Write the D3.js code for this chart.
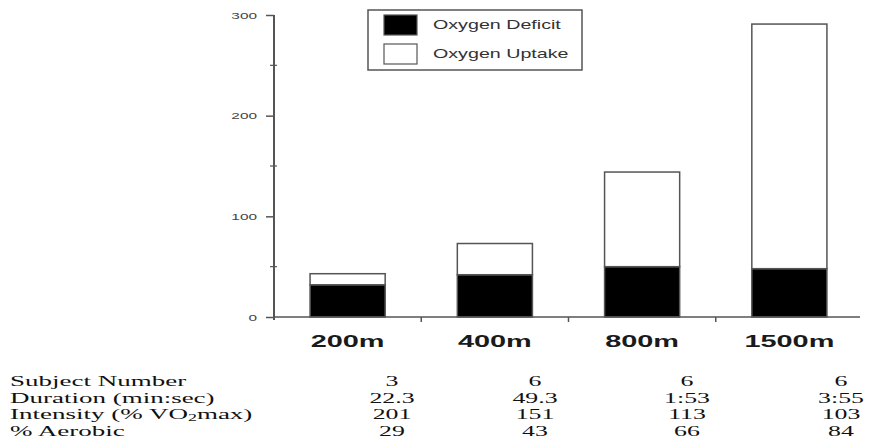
<!DOCTYPE html>
<html>
<head>
<meta charset="utf-8">
<script src="https://cdn.jsdelivr.net/npm/d3@7"></script>
<style>
  body { margin: 0; background: #fff; }
  svg { display: block; }
</style>
</head>
<body>
<div id="app"></div>
<script>
var events = ['200m', '400m', '800m', '1500m'];
var oxygenDeficit = [32, 42, 50, 48];
var oxygenUptake = [11, 31, 94, 243];
var yTicks = [0, 100, 200, 300];
var yMinorTicks = [50, 150, 250];
var legendLabels = ['Oxygen Deficit', 'Oxygen Uptake'];

var subjectNumber = ['3', '6', '6', '6'];
var duration = ['22.3', '49.3', '1:53', '3:55'];
var intensity = ['201', '151', '113', '103'];
var aerobic = ['29', '43', '66', '84'];

var width = 873, height = 448;
var stretch = 1.62;   // the original picture is squeezed wide

var svg = d3.select('#app').append('svg')
    .attr('width', width)
    .attr('height', height);

var x = d3.scaleBand()
    .domain(events)
    .range([274, 863])
    .paddingInner(0.49)
    .paddingOuter(0.245);

var y = d3.scaleLinear()
    .domain([0, 300])
    .range([317, 15]);

var rows = events.map(function(e, i) {
    return { event: e, deficit: oxygenDeficit[i], uptake: oxygenUptake[i] };
});
var stack = d3.stack().keys(['deficit', 'uptake']);
var fills = { deficit: '#000', uptake: '#fff' };

// bars
svg.append('g').selectAll('g')
    .data(stack(rows))
    .join('g')
    .attr('fill', function(d) { return fills[d.key]; })
    .selectAll('rect')
    .data(function(d) { return d; })
    .join('rect')
    .attr('x', function(d) { return x(d.data.event); })
    .attr('y', function(d) { return y(d[1]); })
    .attr('width', x.bandwidth())
    .attr('height', function(d) { return y(d[0]) - y(d[1]); })
    .attr('stroke', '#555')
    .attr('stroke-width', 1.5);

// y axis
var yAxis = svg.append('g')
    .attr('transform', 'translate(274,0)')
    .call(d3.axisLeft(y).tickValues(yTicks).tickSize(8).tickPadding(9));
yAxis.select('.domain').remove();
yAxis.selectAll('.tick line').attr('stroke', '#555').attr('stroke-width', 1.5);
yAxis.selectAll('.tick text')
    .attr('fill', '#444')
    .attr('font-family', 'Liberation Sans, Arial, sans-serif')
    .attr('font-size', 9.5)
    .attr('transform', function() {
        var tx = +d3.select(this).attr('x');
        return 'translate(' + tx + ',0) scale(' + stretch + ',1)';
    })
    .attr('x', 0);

svg.append('rect')
    .attr('x', 273).attr('width', 2)
    .attr('y', y(300)).attr('height', y(0) + 3 - y(300))
    .attr('fill', '#555');

svg.append('g').selectAll('line')
    .data(yMinorTicks)
    .join('line')
    .attr('x1', 270).attr('x2', 277)
    .attr('y1', function(d) { return y(d); })
    .attr('y2', function(d) { return y(d); })
    .attr('stroke', '#555')
    .attr('stroke-width', 1.2);

// x axis
svg.append('line')
    .attr('x1', 274).attr('x2', 860)
    .attr('y1', y(0)).attr('y2', y(0))
    .attr('stroke', '#555')
    .attr('stroke-width', 1.5);

svg.append('g').selectAll('line')
    .data(events.slice(1))
    .join('line')
    .attr('x1', function(d) { return x(d) - x.step() * x.paddingInner() / 2; })
    .attr('x2', function(d) { return x(d) - x.step() * x.paddingInner() / 2; })
    .attr('y1', y(0)).attr('y2', y(0) + 5)
    .attr('stroke', '#555')
    .attr('stroke-width', 1.5);

svg.append('g').selectAll('text')
    .data(events)
    .join('text')
    .attr('transform', function(d) {
        return 'translate(' + (x(d) + x.bandwidth() / 2) + ',347) scale(1.7,1)';
    })
    .attr('text-anchor', 'middle')
    .attr('font-family', 'Liberation Sans, Arial, sans-serif')
    .attr('font-weight', 'bold')
    .attr('font-size', 17)
    .attr('fill', '#1a1a1a')
    .text(function(d) { return d; });

// legend
var legend = svg.append('g');
legend.append('rect')
    .attr('x', 368).attr('y', 10)
    .attr('width', 214).attr('height', 60)
    .attr('fill', '#fff')
    .attr('stroke', '#555')
    .attr('stroke-width', 1.5);

var legendItems = legend.selectAll('g')
    .data(legendLabels)
    .join('g')
    .attr('transform', function(d, i) { return 'translate(384,' + (15 + i * 29) + ')'; });

legendItems.append('rect')
    .attr('width', 33).attr('height', 20)
    .attr('fill', function(d, i) { return i === 0 ? '#000' : '#fff'; })
    .attr('stroke', '#555')
    .attr('stroke-width', 1.2);

legendItems.append('text')
    .attr('transform', 'translate(49,14) scale(1.64,1)')
    .attr('font-family', 'Liberation Sans, Arial, sans-serif')
    .attr('font-size', 12)
    .attr('fill', '#333')
    .text(function(d) { return d; });

// table underneath
var col = d3.scaleOrdinal()
    .domain(events)
    .range([392, 535, 687, 841]);

var tableRows = [
    { label: 'Subject Number', values: subjectNumber },
    { label: 'Duration (min:sec)', values: duration },
    { label: 'Intensity (% VO', sub: '2', rest: 'max)', values: intensity },
    { label: '% Aerobic', values: aerobic }
];

var table = svg.append('g')
    .attr('font-family', 'Liberation Serif, Times New Roman, serif')
    .attr('font-size', 15)
    .attr('fill', '#111');

tableRows.forEach(function(row, r) {
    var base = 386 + r * 16.5;
    var t = table.append('text')
        .attr('transform', 'translate(10,' + base + ') scale(1.8,1)');
    t.append('tspan').text(row.label);
    if (row.sub) {
        t.append('tspan').attr('font-size', 10).attr('dy', 2).text(row.sub);
        t.append('tspan').attr('dy', -2).text(row.rest);
    }
    table.selectAll(null)
        .data(row.values)
        .join('text')
        .attr('transform', function(d, i) {
            return 'translate(' + col(events[i]) + ',' + base + ') scale(1.72,1)';
        })
        .attr('text-anchor', 'middle')
        .text(function(d) { return d; });
});
</script>
</body>
</html>
